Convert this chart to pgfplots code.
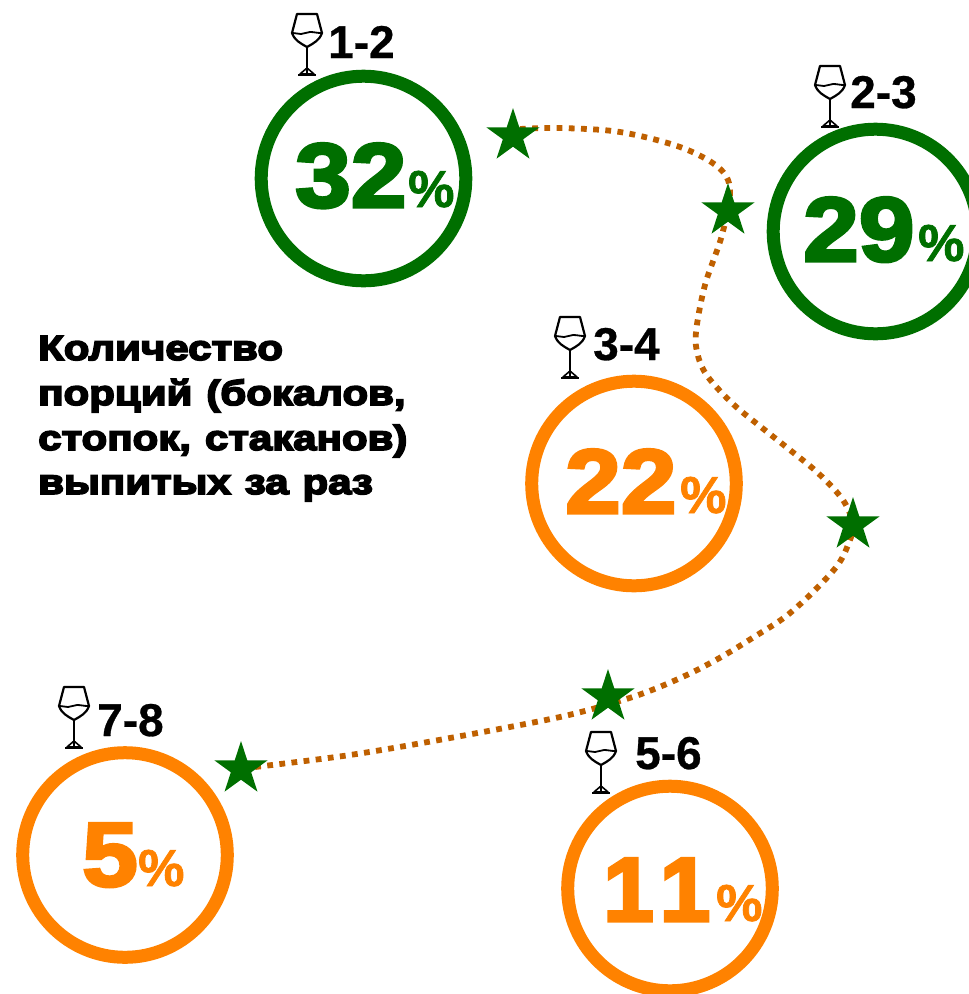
\documentclass[border=0pt]{standalone}
\usepackage{pgfplots}
\pgfplotsset{compat=1.18}
\usepackage{fontspec}
\setmainfont{Liberation Sans}
\newfontfamily\bld{Liberation Sans Bold}[FakeBold=0.6]
\newfontfamily\pcf{Liberation Sans Bold}[FakeBold=1.4]
\newfontfamily\heavy{Liberation Sans Bold}[FakeBold=3.5,FakeStretch=1.1]
\newfontfamily\heavyN{Liberation Sans Bold}[FakeBold=3.5]
\newfontfamily\heavyT{Liberation Sans Bold}[FakeBold=5,FakeStretch=1.2,WordSpace=1.2]
\definecolor{gr}{HTML}{006F00}
\definecolor{orn}{HTML}{FF8200}
\definecolor{dots}{HTML}{BF6000}
\pgfdeclareplotmark{fstar}{%
  \pgfpathmoveto{\pgfpointpolar{90}{\pgfplotmarksize}}%
  \pgfpathlineto{\pgfpointpolar{126}{.382\pgfplotmarksize}}%
  \pgfpathlineto{\pgfpointpolar{162}{\pgfplotmarksize}}%
  \pgfpathlineto{\pgfpointpolar{198}{.382\pgfplotmarksize}}%
  \pgfpathlineto{\pgfpointpolar{234}{\pgfplotmarksize}}%
  \pgfpathlineto{\pgfpointpolar{270}{.382\pgfplotmarksize}}%
  \pgfpathlineto{\pgfpointpolar{306}{\pgfplotmarksize}}%
  \pgfpathlineto{\pgfpointpolar{342}{.382\pgfplotmarksize}}%
  \pgfpathlineto{\pgfpointpolar{18}{\pgfplotmarksize}}%
  \pgfpathlineto{\pgfpointpolar{54}{.382\pgfplotmarksize}}%
  \pgfpathclose\pgfusepathqfill}
\newcommand{\glass}[2]{%
  \begin{scope}[shift={(axis cs:#1,#2)},x=1pt,y=-1pt,line width=2.2pt,black,line join=round]
    \draw (-10,0) -- (10,0) -- (15,19) to[out=-110,in=30] (0,33) to[out=150,in=-70] (-15,19) -- cycle;
    \draw[line width=1.8pt] (-14,19) to[out=-10,in=180] (-6,20) to[out=0,in=180] (3,18) to[out=0,in=180] (14,19);
    \draw (0,33) -- (0,60);
    \draw[line width=1.6pt] (0,54) -- (-7,60) -- (7,60) -- cycle;
    \draw[line width=2.6pt] (-9,61) -- (9,61);
  \end{scope}}
\newcommand{\lab}[3]{\node[anchor=base west,inner sep=0pt,font=\fontsize{46}{46}\selectfont\bld] at (axis cs:#1,#2) {#3};}
\newcommand{\pct}[5]{%
  \node[anchor=base west,inner sep=0pt,text=#1,font=\fontsize{91}{91}\selectfont\heavy] at (axis cs:#2,#3) {#4};
  \node[anchor=base west,inner sep=0pt,text=#1,font=\fontsize{52}{52}\selectfont\pcf] at (axis cs:#5,#3) {\%};}
\begin{document}
\begin{tikzpicture}
\begin{axis}[
  width=969pt,height=994pt,scale only axis,
  xmin=0,xmax=969,ymin=0,ymax=994,y dir=reverse,
  hide axis,clip mode=global]
\addplot[only marks,mark=o,mark size=102.3pt,mark options={line width=13pt,draw=gr,fill=none}]
  coordinates {(363.5,178.5)(875.5,231.5)};
\addplot[only marks,mark=o,mark size=102.3pt,mark options={line width=13pt,draw=orn,fill=none}]
  coordinates {(634,483.5)(125,855)(670,888.5)};
\addplot[smooth,tension=0.55,draw=dots,line width=5.8pt,dash pattern=on 5.8pt off 6.4pt] coordinates {
 (520,129)(560,128)(620,132)(680,147)(718,167)(730,190)(722,235)(705,285)(696,332)(698,356)(708,377)(733,404)(761,427)(790,450)(818,473)(843,500)(853,525)(848,545)(837,566)(812,593)(785,617)(754,637)(723,656)(691,673)(657,688)(623,700)(560,717)(450,738)(350,755)(255,767)};
\addplot[only marks,mark=fstar,mark size=28pt,mark options={fill=gr,draw=none},color=gr]
  coordinates {(513,136)(728,211)(853,525)(608,697)(241,769)};
\glass{307}{14}\glass{830}{66}\glass{570}{317}\glass{601}{732}\glass{74}{687}
\lab{328}{58}{1-2}\lab{850}{108}{2-3}\lab{593}{360}{3-4}\lab{635}{769}{5-6}\lab{97}{736}{7-8}
\pct{gr}{295}{207}{32}{408}
\pct{gr}{803}{261}{29}{918}
\pct{orn}{565}{513}{22}{680}
\pct{orn}{82}{886}{5}{138}
\pct{orn}{603}{921}{\heavyN 1\kern6pt 1}{716}
\node[anchor=base west,inner sep=0pt,font=\fontsize{35}{35}\selectfont\heavyT] at (axis cs:38,360) {Количество};
\node[anchor=base west,inner sep=0pt,font=\fontsize{35}{35}\selectfont\heavyT] at (axis cs:38,405) {порций (бокалов,};
\node[anchor=base west,inner sep=0pt,font=\fontsize{35}{35}\selectfont\heavyT] at (axis cs:38,450) {стопок, стаканов)};
\node[anchor=base west,inner sep=0pt,font=\fontsize{35}{35}\selectfont\heavyT] at (axis cs:38,494) {выпитых за раз};
\end{axis}
\pgfresetboundingbox
\useasboundingbox (0,0) rectangle (969pt,994pt);
\end{tikzpicture}
\end{document}
